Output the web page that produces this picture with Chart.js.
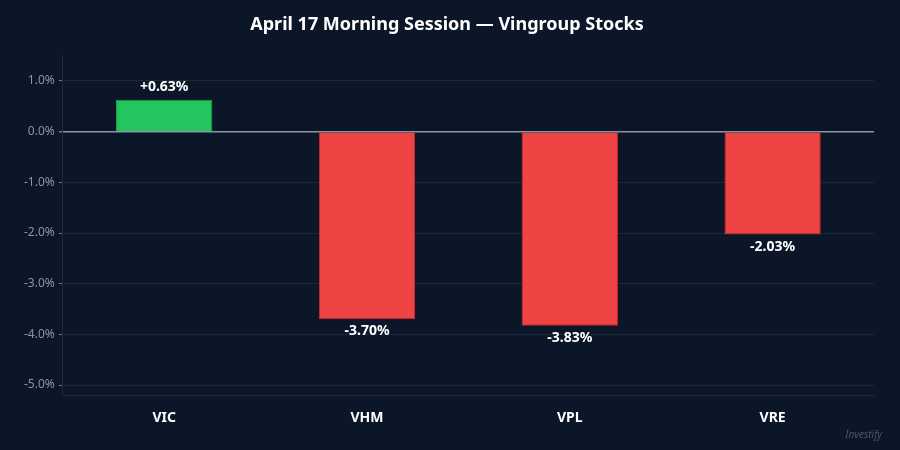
<!DOCTYPE html>
<html><head><meta charset="utf-8">
<script src="https://cdn.jsdelivr.net/npm/chart.js@4/dist/chart.umd.min.js"></script>
<style>html,body{margin:0;padding:0;background:#0b1628;}#w{width:900px;height:450px;position:relative}</style>
</head><body><div id="w"><canvas id="c"></canvas></div>
<script>
const categories = ["VIC","VHM","VPL","VRE"];
const changes = [0.63,-3.70,-3.83,-2.03];
const tickValues = [-5,-4,-3,-2,-1,0,1];
const F = "'Noto Sans', sans-serif";
const labelsPlugin = {
  id:'lbl',
  afterDatasetsDraw(chart){
    const ctx = chart.ctx; const meta = chart.getDatasetMeta(0);
    ctx.save(); ctx.font = "bold 14px "+F; ctx.fillStyle="#ffffff"; ctx.textAlign="center";
    meta.data.forEach((b,i)=>{
      const v = changes[i];
      const t = (v>0?"+":"")+v.toFixed(2)+"%";
      if(v>=0){ctx.textBaseline="bottom"; ctx.fillText(t,b.x,b.y-6);}
      else {ctx.textBaseline="top"; ctx.fillText(t,b.x,b.y+5);}
    });
    ctx.font="italic 10px "+F; ctx.fillStyle="#4b5668"; ctx.textAlign="right"; ctx.textBaseline="alphabetic";
    ctx.fillText("Investify",882,438);
    ctx.restore();
  }
};
new Chart(document.getElementById('c'),{
  type:'bar',
  data:{labels:categories,datasets:[{data:changes,
    backgroundColor:changes.map(v=>v>=0?'#22c55e':'#ef4444'),
    borderColor:changes.map(v=>v>=0?'#16a34a':'#dc2626'),
    borderWidth:1,categoryPercentage:0.95,barPercentage:0.5}]},
  options:{responsive:true,maintainAspectRatio:false,animation:false,
    layout:{padding:{left:20,right:26,top:4,bottom:18}},
    plugins:{legend:{display:false},tooltip:{enabled:false},
      title:{display:true,text:"April 17 Morning Session — Vingroup Stocks",color:"#ffffff",
        font:{family:F,size:18,weight:'bold'},padding:{top:10,bottom:20}}},
    scales:{
      x:{grid:{display:false},border:{color:'#1f2a3c'},
        ticks:{color:'#ffffff',font:{family:F,size:14,weight:'bold'},padding:6}},
      y:{min:-5.2,max:1.5,
        afterBuildTicks(a){a.ticks=tickValues.map(v=>({value:v}));},
        border:{color:'#1f2a3c',dash:[]},
        grid:{color:c=>c.tick&&c.tick.value===0?'#8a94a6':'#1c2738',
              lineWidth:c=>c.tick&&c.tick.value===0?1.5:1,
              tickColor:'#6b7587',tickLength:4},
        ticks:{color:'#8a94a6',font:{family:F,size:12},padding:4,
          callback:v=>v.toFixed(1)+'%'}}
    }},
  plugins:[labelsPlugin]
});
</script></body></html>
